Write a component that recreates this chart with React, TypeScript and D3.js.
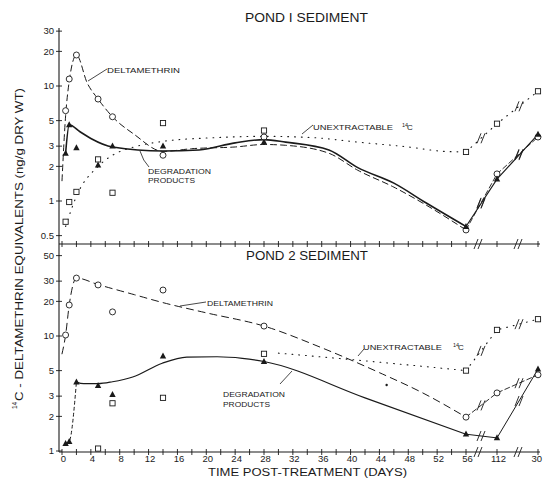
import React from "react";
import * as d3 from "d3";

// sampling days (last one is the late sample, labelled "30" on the axis)
const DAYS = [0.5, 1, 2, 5, 7, 14, 28, 56, 112, 300];

// pond 1 measured points
const P1_DELTA = [6.1, 11.5, 18.6, 7.7, 5.4, 2.5, 3.6, 0.56, 1.72, 3.6];
const P1_DEGR = [2.6, 4.6, 2.9, 2.05, 3.0, 3.0, 3.25, 0.6, 1.55, 3.8];
const P1_UNEX = [0.66, 0.98, 1.2, 2.3, 1.18, 4.76, 4.1, 2.67, 4.7, 9.0];

// pond 2 measured points
const P2_DELTA = [10.2, 18.6, 31.9, 27.8, 16.2, 25.1, 12.2, 1.97, 3.2, 4.6];
const P2_DEGR = [1.16, 1.21, 3.97, 3.7, 3.1, 6.7, 6.0, 1.4, 1.3, 5.15];
const P2_UNEX_DAYS = [5, 7, 14, 28, 56, 112, 300];
const P2_UNEX = [1.05, 2.6, 2.9, 7.0, 5.0, 11.3, 14];
const P2_STRAY = [[45, 3.75]];

// hand-drawn fitted curves [day, value]
const P1_DELTA_FIT = [[0, 1.5], [0.5, 5.5], [1, 11], [2, 18.6], [3.5, 10.6], [5, 7.7], [7, 5.4], [10, 3.8], [14, 2.7], [18, 2.85], [24, 2.95], [28, 3.1], [31, 3.05], [37, 2.6], [41, 1.85], [46, 1.32], [50.5, 0.92], [56, 0.56]];
const P1_DEGR_FIT = [[0.5, 2.6], [1, 4.6], [2.5, 4.0], [4, 3.5], [7, 2.95], [14, 2.72], [19, 2.78], [24, 3.2], [28, 3.42], [31, 3.25], [37, 2.78], [41, 1.95], [46, 1.43], [50.5, 0.96], [56, 0.6]];
const P1_UNEX_FIT = [[0.5, 0.6], [2, 1.1], [5, 2.0], [7, 2.5], [10, 2.95], [14, 3.3], [21, 3.55], [28, 3.65], [35, 3.55], [41, 3.25], [48, 2.95], [53, 2.7], [56, 2.67]];

const P2_DELTA_FIT = [[0, 7], [0.5, 10.2], [1, 18.6], [2, 31.9], [5, 28], [10, 22.9], [14, 19.5], [20, 15.9], [28, 12.2], [36, 7.9], [44, 4.8], [50, 3.2], [56, 1.97]];
const P2_DEGR_EARLY = [[0.5, 1.16], [1, 1.21], [2, 3.97]];
const P2_DEGR_FIT = [[2, 3.97], [3, 3.85], [5, 3.85], [7, 4.0], [9.8, 4.4], [13.9, 5.8], [17.3, 6.55], [21.5, 6.6], [25, 6.4], [28, 6.0], [42, 2.9], [56, 1.4]];
const P2_UNEX_FIT = [[30, 7.1], [43, 6.0], [56, 5.0]];

// axis ticks
const X_MINOR = d3.range(0, 57, 2).concat([112, 300]);
const X_LABELS = [0, 4, 8, 12, 16, 20, 24, 28, 32, 36, 40, 44, 48, 52, 56, 112, 300];
const X_LABEL_TEXT = ["0", "4", "8", "12", "16", "20", "24", "28", "32", "36", "40", "44", "48", "52", "56", "112", "30"];
const Y_TOP_TICKS = [0.5, 1, 2, 3, 5, 10, 20, 30];
const Y_TOP_TEXT = ["0.5", "1", "2", "3", "5", "10", "20", "30"];
const Y_BOT_TICKS = [1, 2, 3, 5, 10, 20, 30, 50];
const Y_BOT_TEXT = ["1", "2", "3", "5", "10", "20", "30", "50"];

const INK = "#1a1a1a";
const FONT = "Liberation Sans, Arial, sans-serif";

const x = d3.scaleLinear().domain([0, 56, 112, 300]).range([62, 466, 497, 538]);
const yTop = d3.scaleLog().domain([1, 10]).range([201, 86]);
const yBot = d3.scaleLog().domain([1, 10]).range([451, 336]);

const zip = (ds: number[], vs: number[]) => ds.map((d, i) => [d, vs[i]]);

function Circle({ cx, cy }: any) {
  return <circle cx={cx} cy={cy} r={3} fill="white" stroke={INK} strokeWidth={0.9} />;
}
function Square({ cx, cy }: any) {
  return <rect x={cx - 2.6} y={cy - 2.6} width={5.2} height={5.2} fill="white" stroke={INK} strokeWidth={0.9} />;
}
function Tri({ cx, cy }: any) {
  return <path d={`M${cx},${cy - 3.6}L${cx + 3.2},${cy + 2.4}L${cx - 3.2},${cy + 2.4}Z`} fill={INK} />;
}

function Breaks({ p1, p2, bx }: any) {
  const t = (bx - p1[0]) / (p2[0] - p1[0]);
  const by = p1[1] + t * (p2[1] - p1[1]);
  return (
    <g stroke={INK} strokeWidth={0.9}>
      {[-2, 2].map((o) => (
        <line key={o} x1={bx + o - 2} y1={by + 5} x2={bx + o + 2} y2={by - 5} />
      ))}
    </g>
  );
}

function Tail({ y, ds, vs, dash, width }: any) {
  const n = ds.length;
  const pts = [n - 3, n - 2, n - 1].map((i) => [x(ds[i]), y(vs[i])]);
  return (
    <g>
      <path d={d3.line()(pts as any) || ""} fill="none" stroke={INK} strokeWidth={width} strokeDasharray={dash} strokeLinecap="round" />
      <Breaks p1={pts[0]} p2={pts[1]} bx={481} />
      <Breaks p1={pts[1]} p2={pts[2]} bx={519} />
    </g>
  );
}

function Fit({ y, pts, dash, width }: any) {
  const line = d3
    .line<number[]>()
    .x((d) => x(d[0]))
    .y((d) => y(d[1]))
    .curve(d3.curveMonotoneX);
  return <path d={line(pts) || ""} fill="none" stroke={INK} strokeWidth={width} strokeDasharray={dash} strokeLinecap="round" />;
}

function XAxis({ y0, labels }: any) {
  return (
    <g>
      <line x1={59} x2={540} y1={y0} y2={y0} stroke={INK} strokeWidth={1.1} />
      {X_MINOR.map((d) => (
        <line key={d} x1={x(d)} x2={x(d)} y1={y0 - 3} y2={y0 + 3} stroke={INK} strokeWidth={0.9} />
      ))}
      {[478, 518].map((bx) => (
        <Breaks key={bx} p1={[bx - 5, y0]} p2={[bx + 5, y0]} bx={bx} />
      ))}
      {labels &&
        X_LABELS.map((d, i) => {
          const last = i === X_LABELS.length - 1;
          return (
            <text
              key={d}
              x={last ? 542 : x(d) + 1.5}
              y={y0 + 10}
              textAnchor={last ? "end" : "middle"}
              fontSize={9.5}
              fontFamily={FONT}
              fill={INK}
            >
              {X_LABEL_TEXT[i]}
            </text>
          );
        })}
    </g>
  );
}

function YAxis({ y, ticks, text, top, bottom }: any) {
  return (
    <g>
      <line x1={59} x2={59} y1={top} y2={bottom} stroke={INK} strokeWidth={1.1} />
      {ticks.map((t: number, i: number) => (
        <g key={t}>
          <line x1={56} x2={62} y1={y(t)} y2={y(t)} stroke={INK} strokeWidth={0.9} />
          <text x={54} y={y(t) + 3.3} textAnchor="end" fontSize={9.5} fontFamily={FONT} fill={INK}>
            {text[i]}
          </text>
        </g>
      ))}
    </g>
  );
}

function Label({ x0, y0, text, len, size = 8 }: any) {
  return (
    <text x={x0} y={y0} fontSize={size} fontFamily={FONT} fill={INK} textLength={len} lengthAdjust="spacingAndGlyphs">
      {text}
    </text>
  );
}

function C14({ x0, y0 }: any) {
  return (
    <g fontFamily={FONT} fill={INK}>
      <text x={x0} y={y0 - 3} fontSize={5.5}>14</text>
      <text x={x0 + 5} y={y0} fontSize={8}>C</text>
    </g>
  );
}

export default function App() {
  const p1Delta = zip(DAYS, P1_DELTA);
  const p1Degr = zip(DAYS, P1_DEGR);
  const p1Unex = zip(DAYS, P1_UNEX);
  const p2Delta = zip(DAYS, P2_DELTA);
  const p2Degr = zip(DAYS, P2_DEGR);
  const p2Unex = zip(P2_UNEX_DAYS, P2_UNEX);

  return (
    <div style={{ position: "absolute", left: 0, top: 0 }}>
      <svg width={543} height={485} style={{ display: "block", background: "white" }}>
        {/* titles */}
        <Label x0={245} y0={22} text="POND I SEDIMENT" len={123} size={12.5} />
        <Label x0={246} y0={260} text="POND 2 SEDIMENT" len={122} size={12.5} />

        {/* axes */}
        <YAxis y={yTop} ticks={Y_TOP_TICKS} text={Y_TOP_TEXT} top={28} bottom={244} />
        <YAxis y={yBot} ticks={Y_BOT_TICKS} text={Y_BOT_TEXT} top={244} bottom={452} />
        <XAxis y0={244} labels={false} />
        <XAxis y0={452} labels={true} />

        {/* axis titles */}
        <text transform="translate(23,401) rotate(-90)" fontSize={10} fontFamily={FONT} fill={INK} textLength={313} lengthAdjust="spacingAndGlyphs">
          C - DELTAMETHRIN EQUIVALENTS (ng/g DRY WT)
        </text>
        <text transform="translate(17,409) rotate(-90)" fontSize={6.5} fontFamily={FONT} fill={INK}>14</text>
        <Label x0={208} y0={476} text="TIME POST-TREATMENT (DAYS)" len={199} size={10} />

        {/* pond 1 curves */}
        <Fit y={yTop} pts={P1_DELTA_FIT} dash="6,4" width={1} />
        <Fit y={yTop} pts={P1_DEGR_FIT} dash={null} width={1.6} />
        <Fit y={yTop} pts={P1_UNEX_FIT} dash="0.8,6" width={1.1} />
        <Tail y={yTop} ds={DAYS} vs={P1_DELTA} dash="5,3" width={0.9} />
        <Tail y={yTop} ds={DAYS} vs={P1_DEGR} dash={null} width={1.1} />
        <Tail y={yTop} ds={DAYS} vs={P1_UNEX} dash="0.8,6" width={1.1} />

        {/* pond 2 curves */}
        <Fit y={yBot} pts={P2_DELTA_FIT} dash="7,5" width={1} />
        <Fit y={yBot} pts={P2_DEGR_EARLY} dash="3,3" width={1} />
        <Fit y={yBot} pts={P2_DEGR_FIT} dash={null} width={1.2} />
        <Fit y={yBot} pts={P2_UNEX_FIT} dash="0.8,6" width={1.1} />
        <Tail y={yBot} ds={DAYS} vs={P2_DELTA} dash="5,3" width={0.9} />
        <Tail y={yBot} ds={DAYS} vs={P2_DEGR} dash={null} width={1} />
        <Tail y={yBot} ds={P2_UNEX_DAYS} vs={P2_UNEX} dash="0.8,6" width={1.1} />

        {/* points */}
        {p1Unex.map((d, i) => <Square key={"u1" + i} cx={x(d[0])} cy={yTop(d[1])} />)}
        {p1Delta.map((d, i) => <Circle key={"c1" + i} cx={x(d[0])} cy={yTop(d[1])} />)}
        {p1Degr.map((d, i) => <Tri key={"t1" + i} cx={x(d[0])} cy={yTop(d[1])} />)}
        {p2Unex.map((d, i) => <Square key={"u2" + i} cx={x(d[0])} cy={yBot(d[1])} />)}
        {p2Delta.map((d, i) => <Circle key={"c2" + i} cx={x(d[0])} cy={yBot(d[1])} />)}
        {p2Degr.map((d, i) => <Tri key={"t2" + i} cx={x(d[0])} cy={yBot(d[1])} />)}
        {P2_STRAY.map((d, i) => <circle key={"s" + i} cx={x(d[0])} cy={yBot(d[1])} r={1.2} fill={INK} />)}

        {/* annotation leaders */}
        <g stroke={INK} strokeWidth={0.8} fill="none">
          <line x1={107} y1={69} x2={88} y2={81} />
          <path d="M140,151 Q143,161 149,167" />
          <line x1={302} y1={134} x2={313} y2={125} />
          <line x1={180} y1={306} x2={206} y2={302} />
          <line x1={280} y1={384} x2={292} y2={371} />
          <line x1={358} y1={356} x2={364} y2={349} />
        </g>

        {/* annotations pond 1 */}
        <Label x0={107} y0={73} text="DELTAMETHRIN" len={73} />
        <Label x0={148} y0={174} text="DEGRADATION" len={63} />
        <Label x0={148} y0={183} text="PRODUCTS" len={47} />
        <Label x0={313} y0={130} text="UNEXTRACTABLE" len={80} />
        <C14 x0={402} y0={130} />

        {/* annotations pond 2 */}
        <Label x0={207} y0={306} text="DELTAMETHRIN" len={66} />
        <Label x0={223} y0={397} text="DEGRADATION" len={62} />
        <Label x0={223} y0={407} text="PRODUCTS" len={47} />
        <Label x0={363} y0={350} text="UNEXTRACTABLE" len={79} />
        <C14 x0={453} y0={350} />
      </svg>
    </div>
  );
}
